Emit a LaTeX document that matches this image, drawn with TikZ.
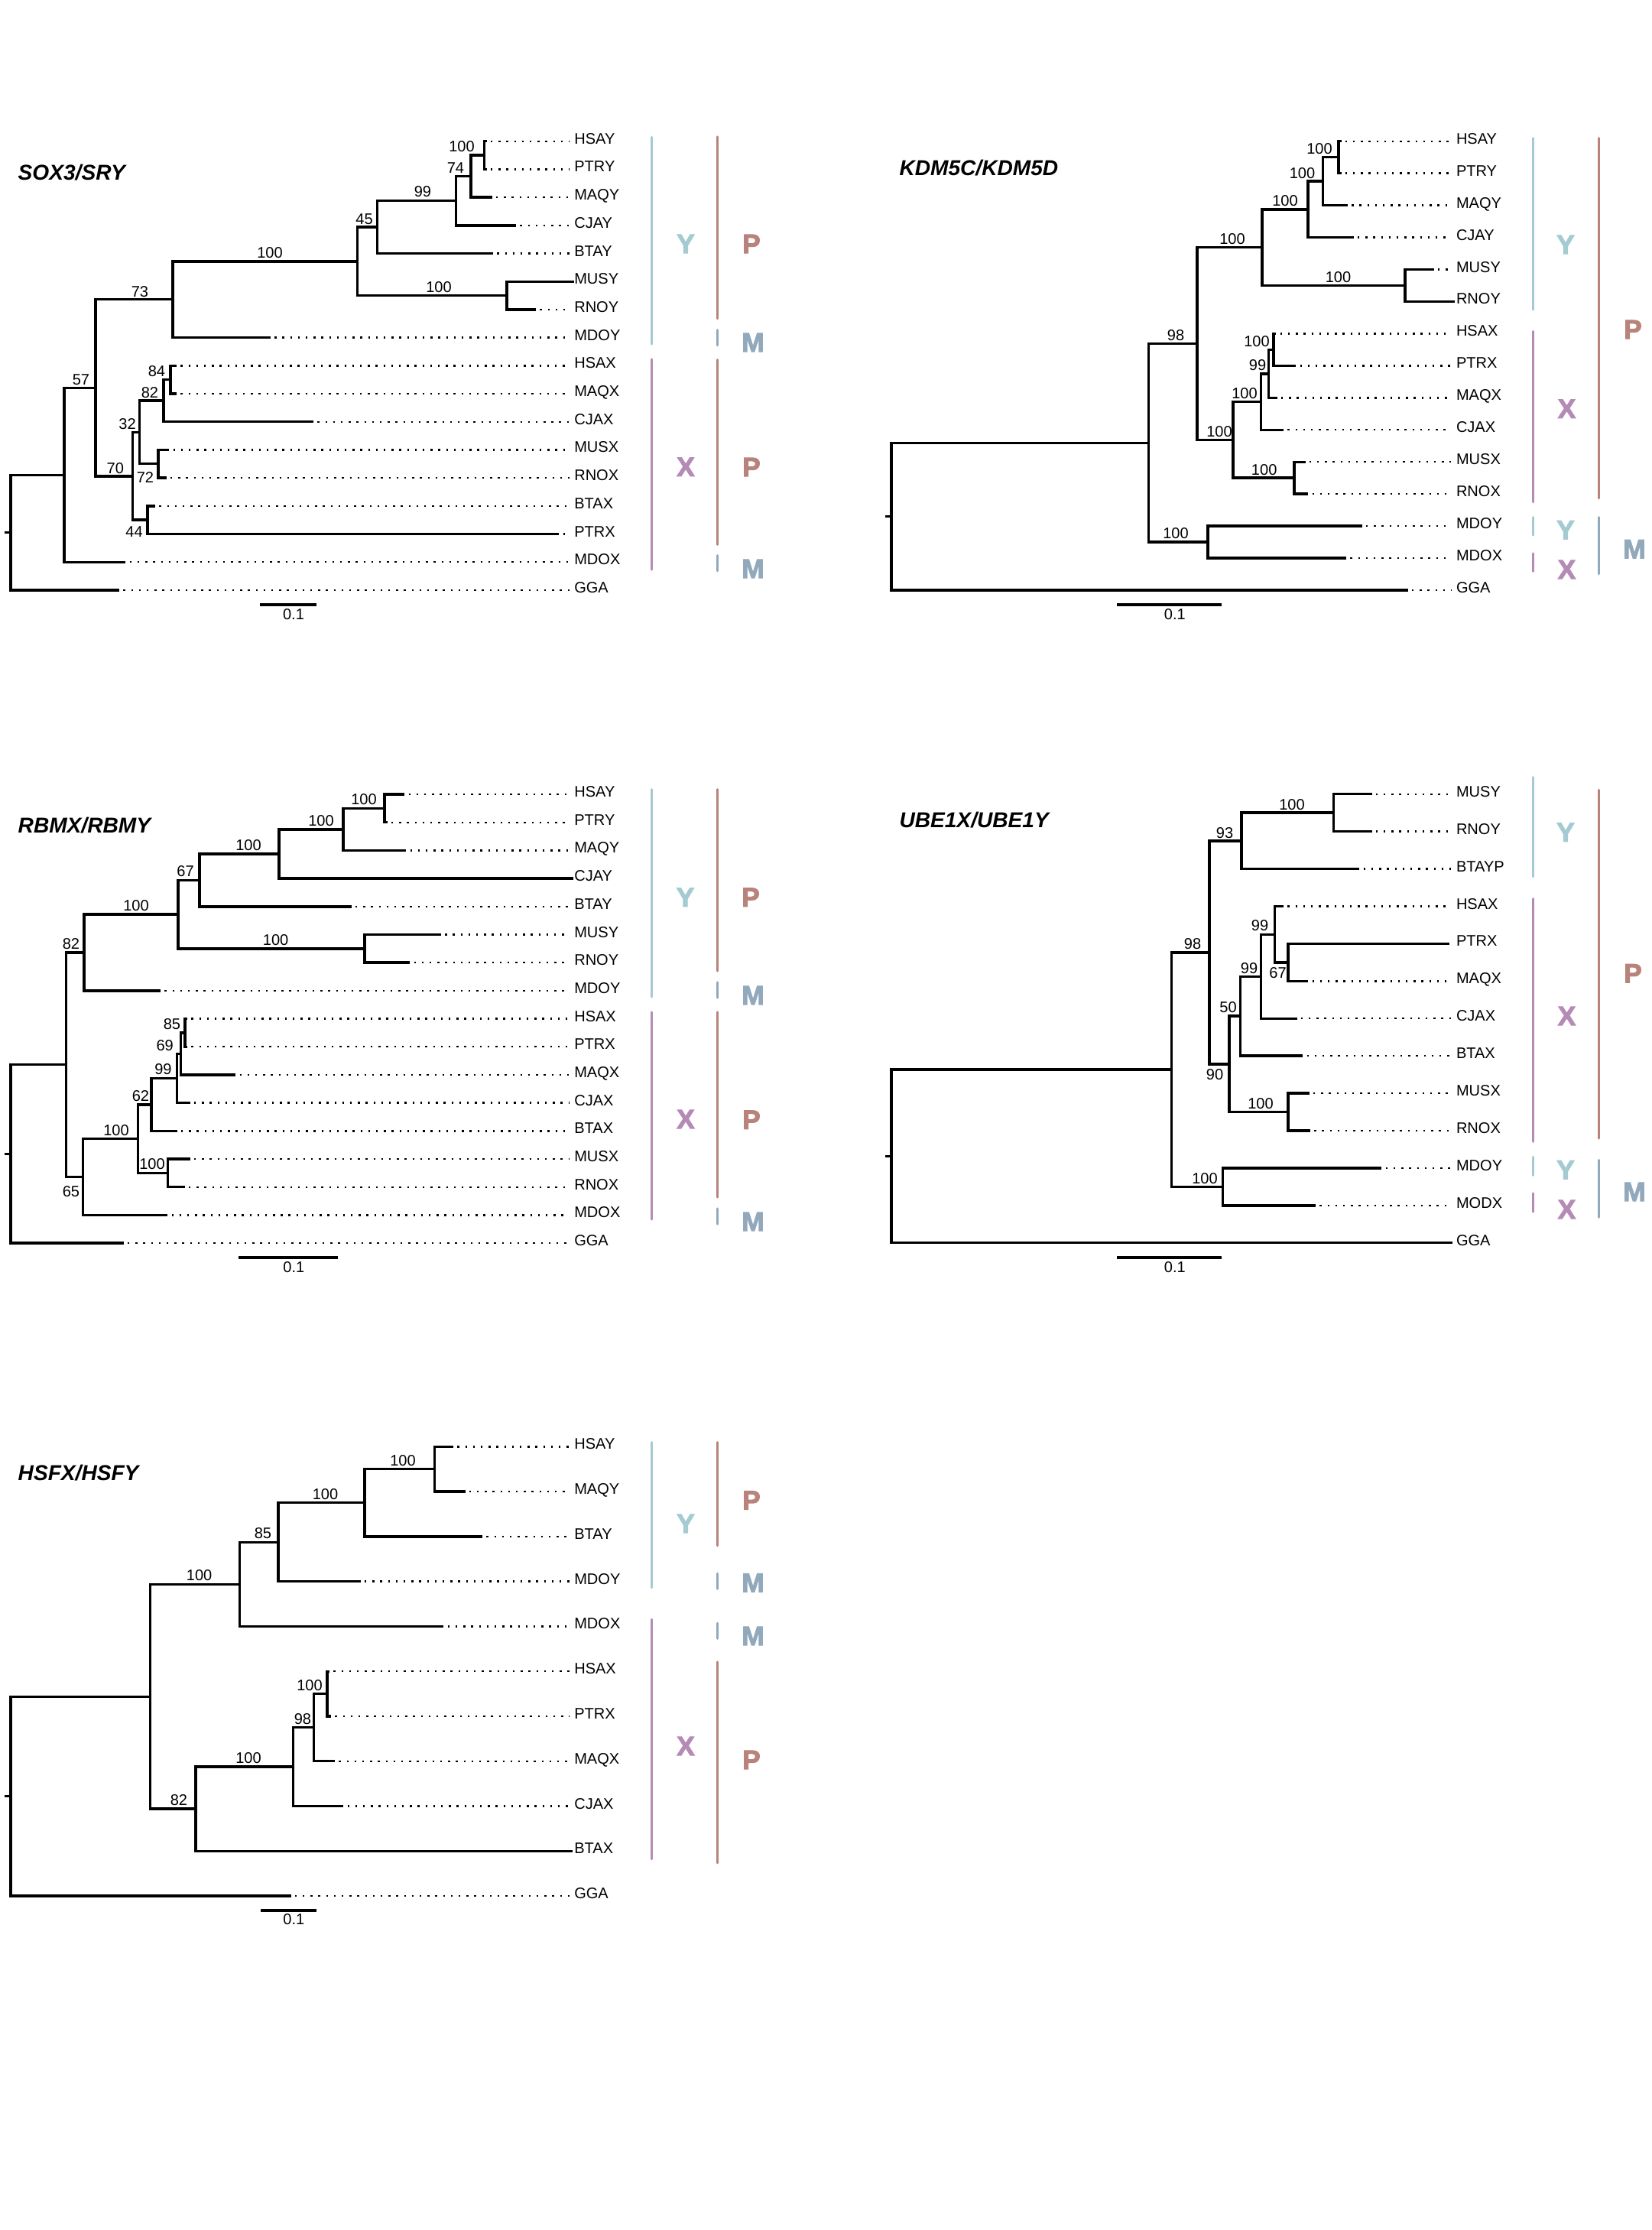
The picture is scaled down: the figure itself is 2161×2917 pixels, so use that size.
\documentclass[tikz,border=0pt]{standalone}
\usepackage{fontspec}
\setmainfont{Liberation Sans}
\newfontfamily\cladefont{Liberation Sans}[BoldFeatures={FakeBold=3}]
\usetikzlibrary{calc}
\definecolor{cY}{HTML}{A3CBD1}
\definecolor{cP}{HTML}{B7837B}
\definecolor{cM}{HTML}{92A9BC}
\definecolor{cX}{HTML}{B58BB6}
\tikzset{
 brline/.style={line width=0.34mm, line cap=rect},
 dotline/.style={line width=0.24mm, dash pattern=on 0.24mm off 0.78mm, shorten <=0.7mm, shorten >=0.6mm},
 leaflab/.style={anchor=base west, inner sep=0pt, font=\fontsize{5.7}{6}\selectfont},
 bslab/.style={anchor=center, inner sep=0pt, font=\fontsize{5.7}{6}\selectfont},
 cladelab/.style={anchor=center, inner sep=0pt, font=\fontsize{10}{12}\selectfont\cladefont\bfseries},
 barline/.style={line width=0.32mm, line cap=round},
 titlelab/.style={anchor=base west, inner sep=0pt, font=\fontsize{8}{10}\selectfont\bfseries\itshape},
}
\def\labx{750.6}
\newcommand\lf[4]{\coordinate (#1) at (#2,#3); \node[leaflab] (#1l) at (\labx,#3+3.5) {#4}; \draw[dotline] (#1) -- (#1 -| #1l.west);}
\newcommand\lfs[4]{\coordinate (#1) at (#2,#3); \node[leaflab] (#1l) at (\labx,#3+3.5) {#4};}
\newcommand\nd[4]{\path ($(#3)!0.5!(#4)$) coordinate (#1m); \coordinate (#1) at (#2,0 |- #1m); \draw[brline] (#1) |- (#3); \draw[brline] (#1) |- (#4);}
\begin{document}
\begin{tikzpicture}[x=0.1mm,y=-0.1mm]
\fill[white] (0,0) rectangle (2161,2917);
\useasboundingbox (0,0) rectangle (2161,2917);

% ================= Tree 1: SOX3/SRY =================
\node[titlelab] (t1) at (23,235) {SOX3/SRY};
\def\labx{750.6}
\lf{aHSAY}{635}{184.7}{HSAY}
\lf{aPTRY}{635}{221.4}{PTRY}
\lf{aMAQY}{642}{258.1}{MAQY}
\lf{aCJAY}{673.4}{294.8}{CJAY}
\lf{aBTAY}{643.3}{331.5}{BTAY}
\lfs{aMUSY}{749}{368.2}{MUSY}
\lf{aRNOY}{699.4}{404.9}{RNOY}
\lf{aMDOY}{352.2}{441.6}{MDOY}
\lf{aHSAX}{229.4}{478.3}{HSAX}
\lf{aMAQX}{229.4}{515.0}{MAQX}
\lf{aCJAX}{408.3}{551.7}{CJAX}
\lf{aMUSX}{219.6}{588.4}{MUSX}
\lf{aRNOX}{216}{625.1}{RNOX}
\lf{aBTAX}{201.3}{661.8}{BTAX}
\lf{aPTRX}{729.6}{698.5}{PTRX}
\lf{aMDOX}{162.7}{735.2}{MDOX}
\lf{aGGA}{154.3}{771.9}{GGA}
\nd{aI}{633.5}{aHSAY}{aPTRY}
\nd{aH}{616}{aI}{aMAQY}
\nd{aG}{596.3}{aH}{aCJAY}
\nd{aF}{493.2}{aG}{aBTAY}
\nd{aJ}{663}{aMUSY}{aRNOY}
\nd{aE}{467.2}{aF}{aJ}
\nd{aC}{225.9}{aE}{aMDOY}
\nd{aM}{223}{aHSAX}{aMAQX}
\nd{aL}{214}{aM}{aCJAX}
\nd{aN}{207}{aMUSX}{aRNOX}
\nd{aK}{182.4}{aL}{aN}
\nd{aO}{193}{aBTAX}{aPTRX}
\nd{aD}{173.3}{aK}{aO}
\nd{aB}{124.9}{aC}{aD}
\nd{aA}{84}{aB}{aMDOX}
\nd{aR}{14}{aA}{aGGA}
\coordinate (aR0) at (8,0 |- aR);
\draw[brline] (aR0) -- (aR);
\node[bslab] (aIb) at (604,191.7) {100};
\node[bslab] (aHb) at (595.9,220) {74};
\node[bslab] (aGb) at (553,251) {99};
\node[bslab] (aFb) at (476.6,286.7) {45};
\node[bslab] (aEb) at (353,330.8) {100};
\node[bslab] (aJb) at (574,375.5) {100};
\node[bslab] (aCb) at (183,381.2) {73};
\node[bslab] (aBb) at (106,496.7) {57};
\node[bslab] (aMb) at (205,485.8) {84};
\node[bslab] (aLb) at (196,513.8) {82};
\node[bslab] (aKb) at (166.6,554.8) {32};
\node[bslab] (aDb) at (150.8,612.5) {70};
\node[bslab] (aNb) at (190,624.2) {72};
\node[bslab] (aOb) at (175.6,695.3) {44};
\draw[barline,cY] (852.3,179.3) -- (852.3,450);
\draw[barline,cX] (852.3,470) -- (852.3,745);
\draw[barline,cP] (938.6,179) -- (938.6,416.7);
\draw[barline,cM] (938.6,431.7) -- (938.6,451.7);
\draw[barline,cP] (938.6,470.7) -- (938.6,712.3);
\draw[barline,cM] (938.6,726.7) -- (938.6,746.7);
\node[cladelab,cY] (aY1) at (897,319) {Y};
\node[cladelab,cP] (aP1) at (983,319) {P};
\node[cladelab,cM] (aM1) at (985,448) {M};
\node[cladelab,cX] (aX1) at (897,610.8) {X};
\node[cladelab,cP] (aP2) at (983,611) {P};
\node[cladelab,cM] (aM2) at (985,744) {M};
\coordinate (aS1) at (341.6,791); \coordinate (aS2) at (412.5,791);
\draw[brline] (aS1) -- (aS2);
\node[bslab] (aSl) at (384,804) {0.1};

% ================= Tree 2: KDM5C/KDM5D =================
\node[titlelab] (t2) at (1175.8,229.3) {KDM5C/KDM5D};
\def\labx{1904.3}
\lf{bHSAY}{1752.8}{184.7}{HSAY}
\lf{bPTRY}{1752.8}{226.65}{PTRY}
\lf{bMAQY}{1761.2}{268.6}{MAQY}
\lf{bCJAY}{1769}{310.55}{CJAY}
\lf{bMUSY}{1874}{352.5}{MUSY}
\lfs{bRNOY}{1901}{394.45}{RNOY}
\lf{bHSAX}{1667.7}{436.4}{HSAX}
\lf{bPTRX}{1693.5}{478.35}{PTRX}
\lf{bMAQX}{1669}{520.3}{MAQX}
\lf{bCJAX}{1677.4}{562.25}{CJAX}
\lf{bMUSX}{1705.8}{604.2}{MUSX}
\lf{bRNOX}{1709.6}{646.15}{RNOX}
\lf{bMDOY}{1780}{688.1}{MDOY}
\lf{bMDOX}{1759.3}{730.05}{MDOX}
\lf{bGGA}{1839.9}{772}{GGA}
\nd{ba}{1750.9}{bHSAY}{bPTRY}
\nd{bb}{1730.3}{ba}{bMAQY}
\nd{bc}{1711}{bb}{bCJAY}
\nd{be}{1838}{bMUSY}{bRNOY}
\nd{bd}{1651}{bc}{be}
\nd{bk}{1665.8}{bHSAX}{bPTRX}
\nd{bj}{1659.4}{bk}{bMAQX}
\nd{bi}{1649.7}{bj}{bCJAX}
\nd{bl}{1692.9}{bMUSX}{bRNOX}
\nd{bh}{1613}{bi}{bl}
\nd{bf}{1565.9}{bd}{bh}
\nd{bm}{1580}{bMDOY}{bMDOX}
\nd{bg}{1502.7}{bf}{bm}
\nd{bR}{1166.1}{bg}{bGGA}
\coordinate (bR0) at (1160,0 |- bR);
\draw[brline] (bR0) -- (bR);
\node[bslab] (bab) at (1726,194.3) {100};
\node[bslab] (bbb) at (1703.5,226.7) {100};
\node[bslab] (bcb) at (1681,262.7) {100};
\node[bslab] (bdb) at (1612,312.7) {100};
\node[bslab] (beb) at (1750.5,362.7) {100};
\node[bslab] (bfb) at (1538,439) {98};
\node[bslab] (bkb) at (1644,446.7) {100};
\node[bslab] (bjb) at (1645,477.7) {99};
\node[bslab] (bib) at (1628,515) {100};
\node[bslab] (bhb) at (1595,565) {100};
\node[bslab] (blb) at (1653.7,615) {100};
\node[bslab] (bmb) at (1538,697.7) {100};
\draw[barline,cY] (2005.6,180.7) -- (2005.6,405);
\draw[barline,cX] (2005.6,433.3) -- (2005.6,656.7);
\draw[barline,cY] (2005.6,676.7) -- (2005.6,700);
\draw[barline,cX] (2005.6,724) -- (2005.6,747.3);
\draw[barline,cP] (2091.3,180.7) -- (2091.3,651.7);
\draw[barline,cM] (2091.3,676.7) -- (2091.3,750.7);
\node[cladelab,cY] (bY1) at (2048,320) {Y};
\node[cladelab,cP] (bP1) at (2136,431) {P};
\node[cladelab,cX] (bX1) at (2049.5,534.7) {X};
\node[cladelab,cY] (bY2) at (2048,693.3) {Y};
\node[cladelab,cX] (bX2) at (2049.5,745) {X};
\node[cladelab,cM] (bM1) at (2138,718.3) {M};
\coordinate (bS1) at (1462.7,791); \coordinate (bS2) at (1596.2,791);
\draw[brline] (bS1) -- (bS2);
\node[bslab] (bSl) at (1536.8,803.3) {0.1};

% ================= Tree 3: RBMX/RBMY =================
\node[titlelab] (t3) at (23,1089.3) {RBMX/RBMY};
\def\labx{750.6}
\lf{cHSAY}{527.5}{1039}{HSAY}
\lf{cPTRY}{505}{1075.7}{PTRY}
\lf{cMAQY}{529.6}{1112.4}{MAQY}
\lfs{cCJAY}{748.5}{1149.1}{CJAY}
\lf{cBTAY}{458}{1185.8}{BTAY}
\lf{cMUSY}{575.2}{1222.5}{MUSY}
\lf{cRNOY}{534.5}{1259.1}{RNOY}
\lf{cMDOY}{208.3}{1295.8}{MDOY}
\lf{cHSAX}{243.4}{1332.5}{HSAX}
\lf{cPTRX}{243.4}{1369.2}{PTRX}
\lf{cMAQX}{306.6}{1405.9}{MAQX}
\lf{cCJAX}{247}{1442.6}{CJAX}
\lf{cBTAX}{230}{1479.3}{BTAX}
\lf{cMUSX}{247}{1516}{MUSX}
\lf{cRNOX}{240}{1552.7}{RNOX}
\lf{cMDOX}{217.5}{1589.4}{MDOX}
\lf{cGGA}{160}{1626}{GGA}
\nd{cp}{503}{cHSAY}{cPTRY}
\nd{cq}{449}{cp}{cMAQY}
\nd{cr}{364.8}{cq}{cCJAY}
\nd{cs}{261}{cr}{cBTAY}
\nd{ct}{477}{cMUSY}{cRNOY}
\nd{cu}{232.9}{cs}{ct}
\nd{cv}{110}{cu}{cMDOY}
\nd{ccc}{242}{cHSAX}{cPTRX}
\nd{cbb}{236.4}{ccc}{cMAQX}
\nd{caa}{231.5}{cbb}{cCJAX}
\nd{cz}{197.8}{caa}{cBTAX}
\nd{cdd}{219.6}{cMUSX}{cRNOX}
\nd{cy}{180.3}{cz}{cdd}
\nd{cx}{108.7}{cy}{cMDOX}
\nd{cw}{86.3}{cv}{cx}
\nd{cR}{14}{cw}{cGGA}
\coordinate (cR0) at (8,0 |- cR);
\draw[brline] (cR0) -- (cR);
\node[bslab] (cpb) at (476,1046) {100};
\node[bslab] (cqb) at (420,1073.3) {100};
\node[bslab] (crb) at (325,1106) {100};
\node[bslab] (csb) at (242.5,1139.3) {67};
\node[bslab] (ctb) at (360.6,1230) {100};
\node[bslab] (cub) at (178,1185) {100};
\node[bslab] (cvb) at (93,1235) {82};
\node[bslab] (cccb) at (225,1340) {85};
\node[bslab] (cbbb) at (215.7,1367.3) {69};
\node[bslab] (caab) at (213.5,1399) {99};
\node[bslab] (czb) at (184,1434) {62};
\node[bslab] (cddb) at (199,1522.7) {100};
\node[bslab] (cyb) at (152,1479) {100};
\node[bslab] (cxb) at (93,1558.3) {65};
\draw[barline,cY] (852.3,1032.7) -- (852.3,1304);
\draw[barline,cX] (852.3,1324) -- (852.3,1595);
\draw[barline,cP] (938.6,1032.7) -- (938.6,1270);
\draw[barline,cM] (938.6,1285) -- (938.6,1305);
\draw[barline,cP] (938.6,1324) -- (938.6,1566);
\draw[barline,cM] (938.6,1581) -- (938.6,1601);
\node[cladelab,cY] (cY1) at (896.5,1173.7) {Y};
\node[cladelab,cP] (cP1) at (982,1173.7) {P};
\node[cladelab,cM] (cM1) at (985,1302) {M};
\node[cladelab,cX] (cX1) at (897,1464) {X};
\node[cladelab,cP] (cP2) at (983,1464.7) {P};
\node[cladelab,cM] (cM2) at (985,1598) {M};
\coordinate (cS1) at (313.6,1645); \coordinate (cS2) at (439.8,1645);
\draw[brline] (cS1) -- (cS2);
\node[bslab] (cSl) at (384.4,1657.3) {0.1};

% ================= Tree 4: UBE1X/UBE1Y =================
\node[titlelab] (t4) at (1175.8,1082.7) {UBE1X/UBE1Y};
\def\labx{1904.3}
\lf{dMUSY}{1792.8}{1038.7}{MUSY}
\lf{dRNOY}{1792.8}{1087.6}{RNOY}
\lf{dBTAYP}{1776.7}{1136.5}{BTAYP}
\lf{dHSAX}{1677.4}{1185.5}{HSAX}
\lfs{dPTRX}{1894.7}{1234.4}{PTRX}
\lf{dMAQX}{1709.6}{1283.3}{MAQX}
\lf{dCJAX}{1694.8}{1332.2}{CJAX}
\lf{dBTAX}{1702.5}{1381.1}{BTAX}
\lf{dMUSX}{1711}{1430.1}{MUSX}
\lf{dRNOX}{1712.2}{1479}{RNOX}
\lf{dMDOY}{1805.7}{1527.9}{MDOY}
\lf{dMODX}{1719.3}{1576.8}{MODX}
\lfs{dGGA}{1898}{1625.7}{GGA}
\nd{dA}{1744.5}{dMUSY}{dRNOY}
\nd{dB}{1623.9}{dA}{dBTAYP}
\nd{dI}{1685}{dPTRX}{dMAQX}
\nd{dH}{1667.7}{dHSAX}{dI}
\nd{dG}{1649.7}{dH}{dCJAX}
\nd{dF}{1622.6}{dG}{dBTAX}
\nd{dJ}{1685}{dMUSX}{dRNOX}
\nd{dE}{1607.8}{dF}{dJ}
\nd{dC}{1582}{dB}{dE}
\nd{dK}{1599.4}{dMDOY}{dMODX}
\nd{dD}{1532.3}{dC}{dK}
\nd{dR}{1166.1}{dD}{dGGA}
\coordinate (dR0) at (1160,0 |- dR);
\draw[brline] (dR0) -- (dR);
\node[bslab] (dAb) at (1690,1052.3) {100};
\node[bslab] (dBb) at (1602,1089.3) {93};
\node[bslab] (dCb) at (1560,1235) {98};
\node[bslab] (dHb) at (1648,1210.7) {99};
\node[bslab] (dGb) at (1634,1266.7) {99};
\node[bslab] (dIb) at (1671.5,1272.7) {67};
\node[bslab] (dFb) at (1606.5,1317.7) {50};
\node[bslab] (dEb) at (1589,1406) {90};
\node[bslab] (dJb) at (1649,1444) {100};
\node[bslab] (dKb) at (1576,1541.7) {100};
\draw[barline,cY] (2005.6,1016.7) -- (2005.6,1146.7);
\draw[barline,cX] (2005.6,1175.7) -- (2005.6,1493.3);
\draw[barline,cY] (2005.6,1513.3) -- (2005.6,1537.3);
\draw[barline,cX] (2005.6,1561) -- (2005.6,1585);
\draw[barline,cP] (2091.3,1033.3) -- (2091.3,1489);
\draw[barline,cM] (2091.3,1517.3) -- (2091.3,1592.3);
\node[cladelab,cY] (dY1) at (2048,1088.8) {Y};
\node[cladelab,cP] (dP1) at (2136,1273.3) {P};
\node[cladelab,cX] (dX1) at (2049.5,1329) {X};
\node[cladelab,cY] (dY2) at (2048,1530.3) {Y};
\node[cladelab,cX] (dX2) at (2049.5,1582) {X};
\node[cladelab,cM] (dM1) at (2138,1559) {M};
\coordinate (dS1) at (1462.7,1645); \coordinate (dS2) at (1596.2,1645);
\draw[brline] (dS1) -- (dS2);
\node[bslab] (dSl) at (1536.8,1657.3) {0.1};

% ================= Tree 5: HSFX/HSFY =================
\node[titlelab] (t5) at (23,1936) {HSFX/HSFY};
\def\labx{750.6}
\lf{eHSAY}{591.4}{1892.3}{HSAY}
\lf{eMAQY}{606.8}{1951.1}{MAQY}
\lf{eBTAY}{629.3}{2009.8}{BTAY}
\lf{eMDOY}{470}{2068.6}{MDOY}
\lf{eMDOX}{578.7}{2127.4}{MDOX}
\lf{eHSAX}{429.3}{2186.2}{HSAX}
\lf{ePTRX}{431.4}{2244.9}{PTRX}
\lf{eMAQX}{436.3}{2303.7}{MAQX}
\lf{eCJAX}{447.6}{2362.5}{CJAX}
\lfs{eBTAX}{747.1}{2421.2}{BTAX}
\lf{eGGA}{378.8}{2480}{GGA}
\nd{ea}{568.2}{eHSAY}{eMAQY}
\nd{eb}{477}{ea}{eBTAY}
\nd{ec}{364}{eb}{eMDOY}
\nd{ed}{313.6}{ec}{eMDOX}
\nd{ei}{428}{eHSAX}{ePTRX}
\nd{eh}{410.4}{ei}{eMAQX}
\nd{eg}{383.7}{eh}{eCJAX}
\nd{ef}{256}{eg}{eBTAX}
\nd{ee}{196.4}{ed}{ef}
\nd{eR}{14}{ee}{eGGA}
\coordinate (eR0) at (8,0 |- eR);
\draw[brline] (eR0) -- (eR);
\node[bslab] (eab) at (527,1911) {100};
\node[bslab] (ebb) at (425.5,1955) {100};
\node[bslab] (ecb) at (344,2005.7) {85};
\node[bslab] (edb) at (260.6,2060.7) {100};
\node[bslab] (eib) at (405,2205) {100};
\node[bslab] (ehb) at (396,2249) {98};
\node[bslab] (egb) at (325,2299.3) {100};
\node[bslab] (efb) at (234,2354.3) {82};
\draw[barline,cY] (852.3,1886.7) -- (852.3,2076.7);
\draw[barline,cX] (852.3,2118.3) -- (852.3,2431.7);
\draw[barline,cP] (938.6,1886.7) -- (938.6,2021.7);
\draw[barline,cM] (938.6,2058.3) -- (938.6,2078.3);
\draw[barline,cM] (938.6,2123.3) -- (938.6,2143.3);
\draw[barline,cP] (938.6,2174) -- (938.6,2436.7);
\node[cladelab,cP] (eP1) at (983,1962.5) {P};
\node[cladelab,cY] (eY1) at (897,1993) {Y};
\node[cladelab,cM] (eM1) at (985,2070.5) {M};
\node[cladelab,cM] (eM2) at (985,2140) {M};
\node[cladelab,cX] (eX1) at (897,2284) {X};
\node[cladelab,cP] (eP2) at (983,2302) {P};
\coordinate (eS1) at (342.3,2499); \coordinate (eS2) at (411.8,2499);
\draw[brline] (eS1) -- (eS2);
\node[bslab] (eSl) at (384.4,2511) {0.1};
\end{tikzpicture}
\end{document}
